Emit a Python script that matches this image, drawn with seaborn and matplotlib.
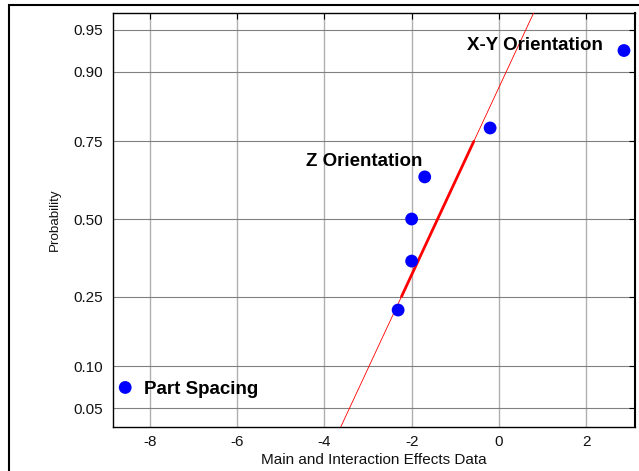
import numpy as np
import pandas as pd
import matplotlib
matplotlib.use("Agg")
import matplotlib.pyplot as plt
from matplotlib.patches import Rectangle
import seaborn as sns
from statistics import NormalDist

# ---- data ----
effects = [-8.57, -2.31, -2.00, -2.00, -1.70, -0.20, 2.87]
prob_ticks = [0.05, 0.10, 0.25, 0.50, 0.75, 0.90, 0.95]
prob_tick_labels = ["0.05", "0.10", "0.25", "0.50", "0.75", "0.90", "0.95"]
x_ticks = [-8, -6, -4, -2, 0, 2]
x_tick_labels = ["-8", "-6", "-4", "-2", "0", "2"]
labels = ["Part Spacing", "Z Orientation", "X-Y Orientation"]
label_x = [-8.15, -4.42, -0.73]
label_p = [0.0693, 0.691, 0.934]

_nd = NormalDist()


def _inv(p):
    if not np.isfinite(p):
        return np.nan
    return _nd.inv_cdf(min(max(p, 1e-12), 1 - 1e-12))


def _fwd(p):
    if not np.isfinite(p):
        return np.nan
    return _nd.cdf(p)


probit = np.vectorize(_inv, otypes=[float])
ncdf = np.vectorize(_fwd, otypes=[float])

sns.set_style("white")
plt.rcParams["font.family"] = ["Liberation Sans", "DejaVu Sans"]

fig = plt.figure(figsize=(6.39, 4.71), dpi=100)
ax = fig.add_axes([113 / 639, (471 - 427) / 471, (635.3 - 113) / 639, (427 - 13.3) / 471])
ax.set_yscale("function", functions=(lambda p: probit(np.asarray(p, float)),
                                      lambda z: ncdf(np.asarray(z, float))))

x_sorted = np.sort(np.array(effects))
n = len(x_sorted)
pos = (np.arange(1, n + 1) - 0.5) / n
df = pd.DataFrame({"effect": x_sorted, "prob": pos})

# reference line through first and third quartiles
q1, q3 = np.percentile(x_sorted, [25, 75], method="hazen")
z1, z3 = float(probit(0.25)), float(probit(0.75))
slope = (z3 - z1) / (q3 - q1)
thin_x = np.array([x_sorted.min(), x_sorted.max()])
thin_p = ncdf(z1 + slope * (thin_x - q1))
sns.lineplot(x=thin_x, y=thin_p, sort=False, color="#ff0000", lw=0.6, ax=ax, zorder=3)
sns.lineplot(x=[q1, q3], y=[0.25, 0.75], sort=False, color="#ff0000", lw=2.0, ax=ax, zorder=3)

sns.scatterplot(data=df, x="effect", y="prob", color="#0000ff", s=85,
                edgecolor="none", zorder=5, ax=ax)

for lab, lx, lp in zip(labels, label_x, label_p):
    ax.text(lx, lp, lab, fontsize=13.5, fontweight="bold", va="center", ha="left",
            color="#000000", zorder=6)

ax.set_xlim(-8.85, 3.13)
ax.set_ylim(float(ncdf(-1.809)), float(ncdf(1.789)))
ax.set_xticks(x_ticks)
ax.set_xticklabels(x_tick_labels)
ax.set_yticks(prob_ticks)
ax.set_yticklabels(prob_tick_labels)
ax.yaxis.set_minor_locator(matplotlib.ticker.NullLocator())

ax.set_axisbelow(True)
ax.xaxis.grid(True, color="#b0b0b0", lw=1.0)
ax.yaxis.grid(True, color="#808080", lw=0.8)

ax.tick_params(direction="in", top=True, right=True, length=4, width=0.8,
               color="black", labelsize=11, colors="#111111")
ax.tick_params(axis="y", pad=7)
ax.tick_params(axis="x", pad=6)
for side, sp in ax.spines.items():
    sp.set_color("black")
    sp.set_linewidth(1.0)
ax.spines["right"].set_linewidth(1.5)

ax.set_xlabel("Main and Interaction Effects Data", fontsize=11, labelpad=3, color="#111111")
ax.set_ylabel("Probability", fontsize=9.6, labelpad=9, color="#111111")

fig.add_artist(Rectangle((9 / 639, -0.2), 1.5, 1.2 - 5 / 471, transform=fig.transFigure,
                         fill=False, edgecolor="black", lw=1.5))

fig.savefig("out.png", dpi=100)
